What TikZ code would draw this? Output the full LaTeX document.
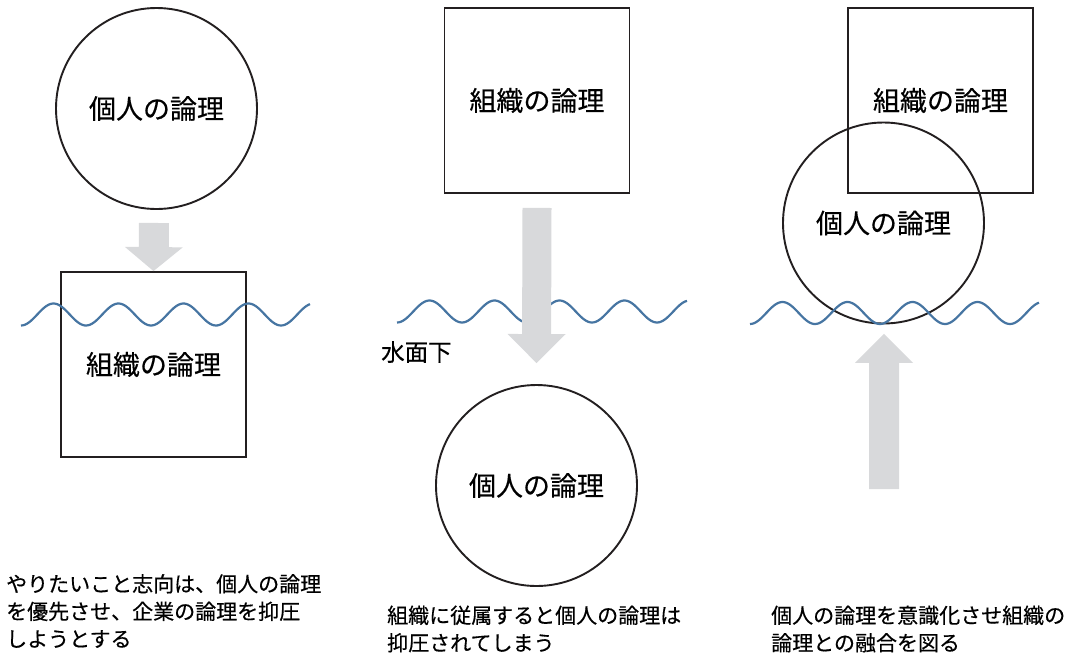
\documentclass[tikz,border=0pt]{standalone}
\usepackage{fontspec}
\setmainfont{Noto Sans CJK JP}[FakeBold=0.4]
\usetikzlibrary{calc}
\definecolor{linecol}{RGB}{35,31,32}
\definecolor{wavecol}{RGB}{70,117,162}
\definecolor{arrowcol}{RGB}{216,217,219}
\tikzset{
  x=1pt, y=-1pt,
  labelfont/.style={font=\fontsize{27}{32}\selectfont},
  circ/.style={circle, draw=linecol, line width=1.9pt, minimum size=201pt, inner sep=0pt, labelfont},
  sq/.style={rectangle, draw=linecol, line width=1.9pt, minimum size=185pt, inner sep=0pt, labelfont},
  wave/.style={draw=wavecol, line width=2.2pt},
  caption/.style={anchor=west, align=left, inner sep=0pt, font=\fontsize{21}{27.5}\selectfont},
  blockfill/.style={fill=arrowcol, draw=none}
}
% block arrow from #1 to #2, shaft half width #3, head half width #4, head length #5
\newcommand{\blockarrow}[5]{%
  \coordinate (hb) at ($(#2)!#5!(#1)$);
  \fill[blockfill] ($(#1)!#3!90:(#2)$) -- ($(hb)!#3!90:(#2)$) -- ($(hb)!#4!90:(#2)$) -- (#2)
    -- ($(hb)!#4!-90:(#2)$) -- ($(hb)!#3!-90:(#2)$) -- ($(#1)!#3!-90:(#2)$) -- cycle;
}
\begin{document}
\begin{tikzpicture}
\useasboundingbox (0,0) rectangle (1079,657);
\fill[white] (0,0) rectangle (1079,657);

% ---------- panel 1 ----------
\node[circ] (c1) at (156.5,108.5) {個人の論理};
\node[sq] (s1) at (153.5,364.5) {組織の論理};
\coordinate (a1s) at ($(c1.south)+(-2.5,13)$);
\coordinate (a1e) at (s1.north);
\blockarrow{a1s}{a1e}{15pt}{29pt}{24pt}
\draw[wave] plot[domain=0:289, samples=160] ({21+\x}, {314.5+11*cos(5.5385*\x)});

% ---------- panel 2 ----------
\draw[wave] plot[domain=0:290, samples=160] ({397+\x}, {311.5+11*cos(5.5385*\x)});
\node[sq] (s2) at (537,100.5) {組織の論理};
\node[circ] (c2) at (536.5,485.5) {個人の論理};
\coordinate (a2s) at ($(s2.south)+(0,14)$);
\coordinate (a2e) at ($(c2.north)+(0,-21)$);
\blockarrow{a2s}{a2e}{14.5pt}{29pt}{29pt}
\node[anchor=west, inner sep=0pt, font=\fontsize{23.5}{28}\selectfont] (under) at (381,352) {水面下};

% ---------- panel 3 ----------
\node[sq] (s3) at (940.5,100.5) {組織の論理};
\node[circ] (c3) at (883.5,223) {個人の論理};
\draw[wave] plot[domain=0:289, samples=160] ({750+\x}, {313+11*cos(5.5385*\x)});
\coordinate (a3s) at (884,489);
\coordinate (a3e) at ($(c3.south)+(0.5,9.5)$);
\blockarrow{a3s}{a3e}{15pt}{29pt}{29pt}

% ---------- captions ----------
\node[caption] (t1) at (6,611) {やりたいこと志向は、個人の論理\\を優先させ、企業の論理を抑圧\\しようとする};
\node[caption] (t2) at (387,629) {組織に従属すると個人の論理は\\抑圧されてしまう};
\node[caption] (t3) at (771,629) {個人の論理を意識化させ組織の\\論理との融合を図る};
\end{tikzpicture}
\end{document}
